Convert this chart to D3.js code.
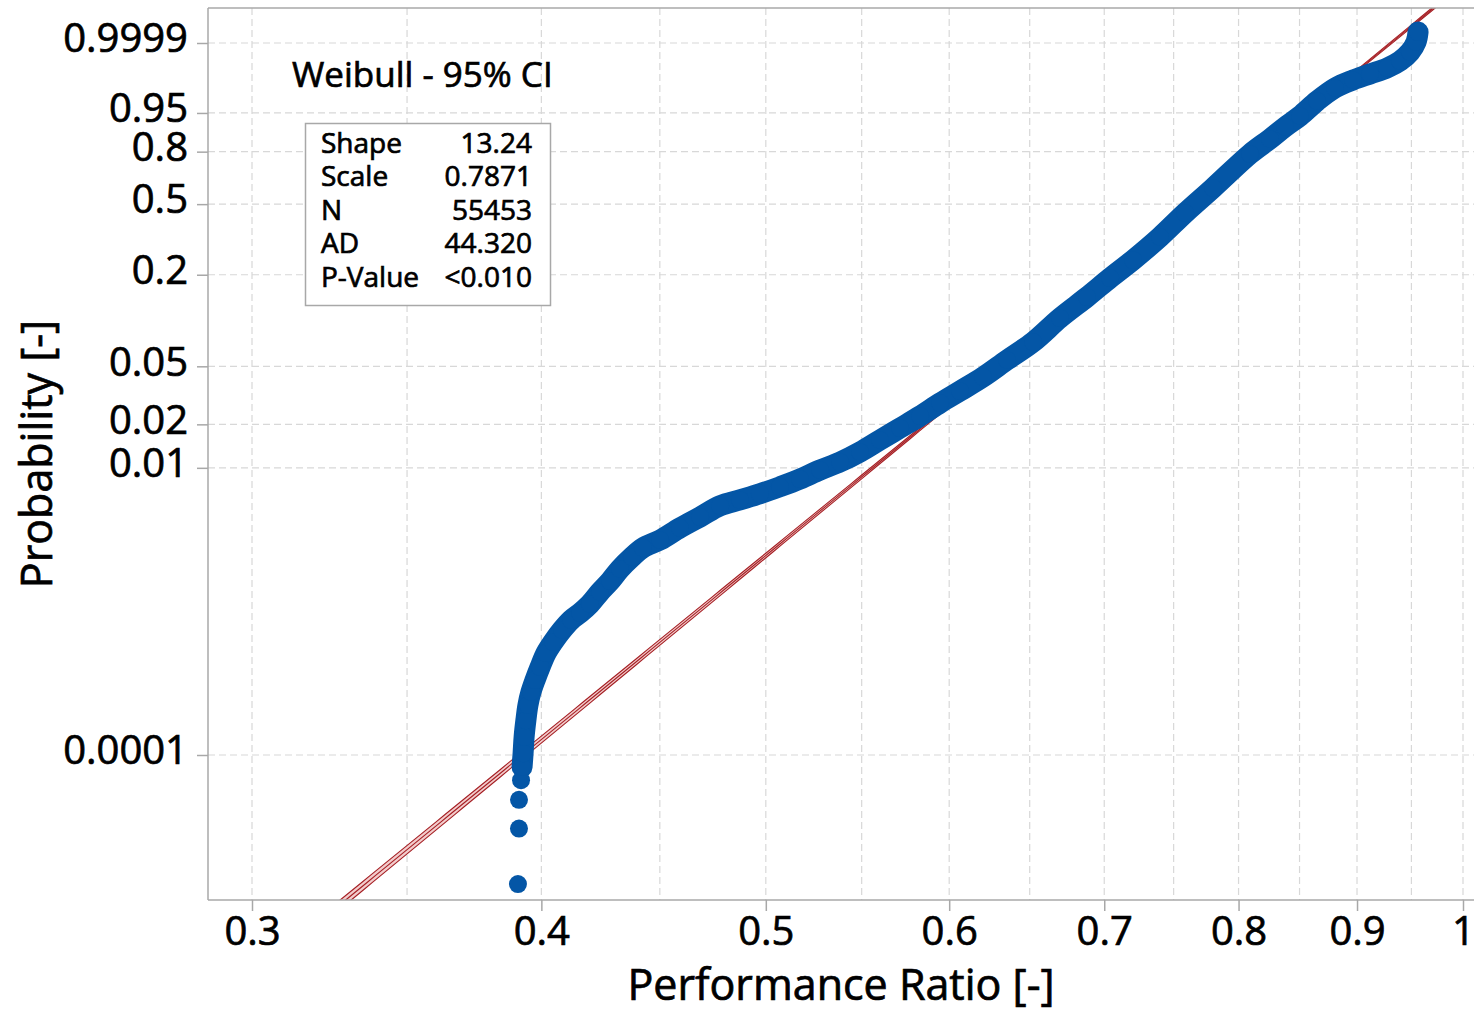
<!DOCTYPE html>
<html>
<head>
<meta charset="utf-8">
<script src="https://cdn.jsdelivr.net/npm/d3@7"></script>
<style>
  html, body { margin: 0; padding: 0; background: #fff; }
  svg { display: block; font-family: "Open Sans", "Noto Sans", sans-serif; }
  svg text { stroke: #000; stroke-width: 0.7px; paint-order: stroke; }
</style>
</head>
<body>
<svg id="chart" width="1474" height="1012"></svg>
<script>
// Axis ticks and grid
const xTickValues = [0.3, 0.4, 0.5, 0.6, 0.7, 0.8, 0.9, 1];
const xTickLabels = ["0.3", "0.4", "0.5", "0.6", "0.7", "0.8", "0.9", "1"];
const xGridValues = [0.3, 0.35, 0.4, 0.45, 0.5, 0.55, 0.6, 0.65, 0.7, 0.75, 0.8, 0.85, 0.9, 0.95, 1];
const yTickValues = [0.0001, 0.01, 0.02, 0.05, 0.2, 0.5, 0.8, 0.95, 0.9999];
const yTickLabels = ["0.0001", "0.01", "0.02", "0.05", "0.2", "0.5", "0.8", "0.95", "0.9999"];

// Empirical probability points (performance ratio, cumulative probability)
const ratio = [
  0.3908, 0.3912, 0.3912, 0.3920,
  0.3924, 0.3928, 0.3932, 0.3939, 0.3947, 0.3959, 0.3975, 0.3995, 0.4019, 0.4047,
  0.4083, 0.4120, 0.4157, 0.4198, 0.4240, 0.4283, 0.4325, 0.4377, 0.4425, 0.4501,
  0.4591, 0.4684, 0.4778, 0.4873, 0.4971, 0.5071, 0.5173, 0.5277, 0.5383, 0.5491,
  0.5601, 0.5714, 0.5829, 0.5946, 0.6065, 0.6205, 0.6355, 0.6522, 0.6699, 0.6881,
  0.7041, 0.7203, 0.7399, 0.7586, 0.7800, 0.8092, 0.8254, 0.8378, 0.8504, 0.8649,
  0.8805, 0.8964, 0.9117, 0.9273, 0.9393, 0.9487, 0.9544, 0.9563
];
const probability = [
  0.0000126, 0.0000307, 0.0000487, 0.0000667,
  0.0000825, 0.000103, 0.000134, 0.000175, 0.000223, 0.000275, 0.000333, 0.000411, 0.000514, 0.000614,
  0.000744, 0.000874, 0.000977, 0.00113, 0.00137, 0.00163, 0.00198, 0.00240, 0.00278, 0.00315,
  0.00383, 0.00456, 0.00545, 0.00599, 0.00660, 0.00739, 0.00836, 0.00966, 0.01097, 0.01288,
  0.01559, 0.01886, 0.02283, 0.02807, 0.03391, 0.04228, 0.05518, 0.07298, 0.10539, 0.14443,
  0.19075, 0.24608, 0.33571, 0.4518, 0.5927, 0.7878, 0.8609, 0.9085, 0.9423, 0.9735,
  0.98859, 0.99381, 0.99630, 0.99790, 0.99899, 0.999655, 0.999914, 0.999983
];
// The first few order statistics stand apart; the rest form a dense band
const isolatedCount = 4;

// Fit summary
const statNames = ["Shape", "Scale", "N", "AD", "P-Value"];
const statValues = ["13.24", "0.7871", "55453", "44.320", "<0.010"];
const confidenceLevel = 0.95;

const shape = +statValues[0];
const scale = +statValues[1];
const sampleSize = +statValues[2];

// Weibull probability paper transform
const wb = p => Math.log(-Math.log1p(-p));

const svg = d3.select("#chart");
const plot = { left: 208, top: 8, right: 1480, bottom: 900 };

const x = d3.scaleLog().domain([0.3, 1]).range([252, 1463]);
const y = d3.scaleLinear().domain([wb(0.0001), wb(0.9999)]).range([755, 43]);

svg.append("defs").append("clipPath").attr("id", "plot-clip")
  .append("rect")
  .attr("x", plot.left).attr("y", plot.top)
  .attr("width", plot.right - plot.left).attr("height", plot.bottom - plot.top);

// Grid
const grid = svg.append("g").attr("stroke", "#d8d8d8").attr("stroke-width", 1.2)
  .attr("stroke-dasharray", "7,4");
grid.selectAll("line.v").data(xGridValues).join("line").attr("class", "v")
  .attr("x1", d => x(d)).attr("x2", d => x(d))
  .attr("y1", plot.top).attr("y2", plot.bottom);
grid.selectAll("line.h").data(yTickValues).join("line").attr("class", "h")
  .attr("x1", plot.left).attr("x2", plot.right)
  .attr("y1", d => y(wb(d))).attr("y2", d => y(wb(d)));

// Fitted Weibull line with confidence bounds (extreme-value asymptotic covariance)
const b = 1 / shape, u = Math.log(scale);
const z = 1.959964;
const wLow = y.invert(plot.bottom + 5), wHigh = y.invert(plot.top - 5);
const wSamples = d3.range(0, 121).map(i => wLow + (wHigh - wLow) * i / 120);
const fitRows = wSamples.map(w => {
  const se = b * Math.sqrt((1.1087 + 2 * 0.2570 * w + 0.6079 * w * w) / sampleSize);
  const c = u + b * w;
  return { w, mid: Math.exp(c), lo: Math.exp(c - z * se), hi: Math.exp(c + z * se) };
});

const fitG = svg.append("g").attr("clip-path", "url(#plot-clip)");
fitG.append("path").datum(fitRows)
  .attr("fill", "#f3cccc")
  .attr("d", d3.area().y(d => y(d.w)).x0(d => x(d.lo)).x1(d => x(d.hi)));
["lo", "mid", "hi"].forEach(k => {
  fitG.append("path").datum(fitRows)
    .attr("fill", "none")
    .attr("stroke", "#a51f24")
    .attr("stroke-width", 1.1)
    .attr("d", d3.line().x(d => x(d[k])).y(d => y(d.w)));
});

// Data points
const pts = ratio.map((r, i) => ({ r, p: probability[i] }));
const dotColor = "#0456a6";
const ptsG = svg.append("g").attr("clip-path", "url(#plot-clip)");
ptsG.append("path").datum(pts.slice(isolatedCount))
  .attr("fill", "none")
  .attr("stroke", dotColor)
  .attr("stroke-width", 21)
  .attr("stroke-linecap", "round")
  .attr("stroke-linejoin", "round")
  .attr("d", d3.line().curve(d3.curveCatmullRom).x(d => x(d.r)).y(d => y(wb(d.p))));
ptsG.selectAll("circle").data(pts).join("circle")
  .attr("cx", d => x(d.r)).attr("cy", d => y(wb(d.p)))
  .attr("r", 9).attr("fill", dotColor);

// Frame
const frame = svg.append("g").attr("stroke", "#a8a8a8").attr("stroke-width", 1.5);
frame.append("line").attr("x1", plot.left).attr("x2", plot.left).attr("y1", plot.top).attr("y2", plot.bottom);
frame.append("line").attr("x1", plot.left).attr("x2", plot.right).attr("y1", plot.top).attr("y2", plot.top);
frame.append("line").attr("x1", plot.left).attr("x2", plot.right).attr("y1", plot.bottom).attr("y2", plot.bottom);

// Axes
const xAxis = d3.axisBottom(x).tickValues(xTickValues)
  .tickFormat((d, i) => xTickLabels[i]).tickSize(11).tickPadding(6);
const gx = svg.append("g").attr("transform", `translate(0,${plot.bottom})`).call(xAxis);
const yAxis = d3.axisLeft(y).tickValues(yTickValues.map(wb))
  .tickFormat((d, i) => yTickLabels[i]).tickSize(11).tickPadding(9);
const gy = svg.append("g").attr("transform", `translate(${plot.left},0)`).call(yAxis);
[gx, gy].forEach(g => {
  g.select(".domain").remove();
  g.selectAll(".tick line").attr("stroke", "#a8a8a8").attr("stroke-width", 1.5);
  g.selectAll(".tick text").attr("fill", "#000").attr("font-size", 40)
    .attr("font-family", "'Open Sans', 'Noto Sans', sans-serif");
});
gy.selectAll(".tick text").attr("dy", "0.22em");

// Axis titles
svg.append("text")
  .attr("x", 841).attr("y", 1000)
  .attr("text-anchor", "middle").attr("font-size", 43).attr("fill", "#000")
  .text("Performance Ratio [-]");
svg.append("text")
  .attr("transform", "translate(52,454) rotate(-90)")
  .attr("text-anchor", "middle").attr("font-size", 43).attr("fill", "#000")
  .text("Probability [-]");

// Distribution caption
svg.append("text")
  .attr("x", 292).attr("y", 87)
  .attr("font-size", 35).attr("fill", "#000")
  .text(`Weibull - ${Math.round(confidenceLevel * 100)}% CI`);

// Statistics box
const box = svg.append("g");
box.append("rect")
  .attr("x", 305.5).attr("y", 123.5).attr("width", 245).attr("height", 182)
  .attr("fill", "#fff").attr("stroke", "#a8a8a8").attr("stroke-width", 1.5);
statNames.forEach((name, i) => {
  const yy = 153 + i * 33.4;
  box.append("text").attr("x", 321).attr("y", yy)
    .attr("font-size", 28).attr("fill", "#000").text(name);
  box.append("text").attr("x", 532).attr("y", yy)
    .attr("text-anchor", "end").attr("font-size", 28).attr("fill", "#000").text(statValues[i]);
});
</script>
</body>
</html>
